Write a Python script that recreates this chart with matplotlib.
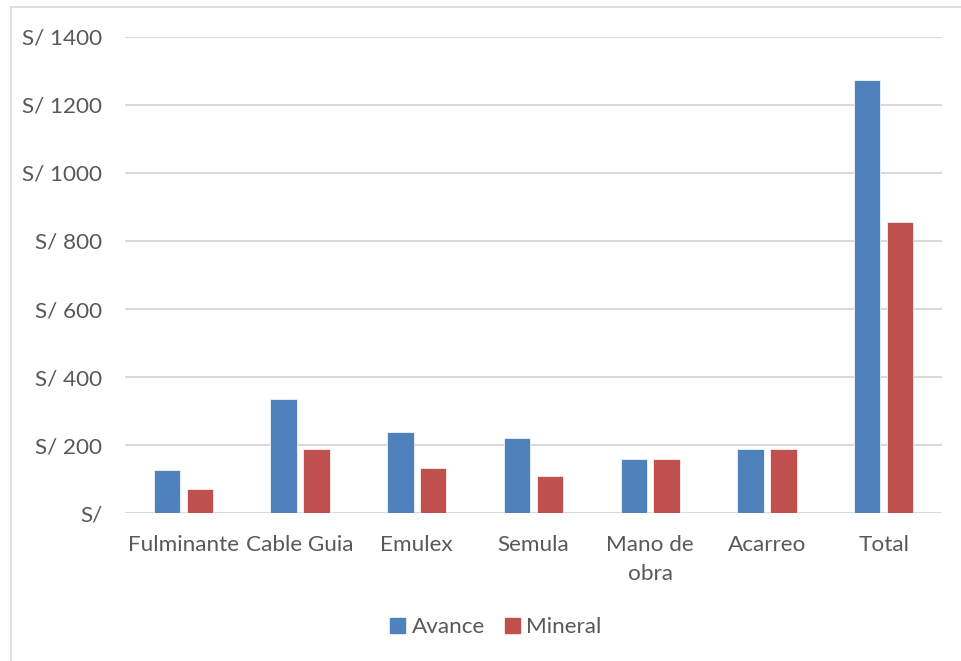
import matplotlib
matplotlib.use('Agg')
import matplotlib.pyplot as plt
from matplotlib.lines import Line2D
from matplotlib.patches import Patch
import numpy as np

categorias = ['Fulminante', 'Cable Guia', 'Emulex', 'Semula', 'Mano de\nobra', 'Acarreo', 'Total']
avance = [127, 335, 240, 220, 160, 190, 1273]
mineral = [71, 189, 134, 110, 160, 190, 855]
yticks = [0, 200, 400, 600, 800, 1000, 1200, 1400]
ytick_labels = ['S/'] + [f'S/ {v}' for v in yticks[1:]]

C_AVANCE, C_MINERAL = '#4F81BD', '#C0504D'
TXT = '#595959'
GRID = '#D9D9D9'
FS = 16.2

plt.rcParams['font.family'] = ['Lato', 'DejaVu Sans']

W, H = 961, 661
fig = plt.figure(figsize=(W / 100, H / 100), dpi=100)
ax = fig.add_axes([125 / W, 1 - 513.3 / H, (942 - 125) / W, (513.3 - 36.7) / H])

x = np.arange(len(categorias))
bw = 0.227
off = 0.141
ax.bar(x - off, avance, bw, color=C_AVANCE, edgecolor='white', linewidth=0.5, zorder=3)
ax.bar(x + off, mineral, bw, color=C_MINERAL, edgecolor='white', linewidth=0.5, zorder=3)

ax.set_xlim(-0.5, len(categorias) - 0.5)
ax.set_ylim(0, 1400)
ax.set_yticks(yticks)
ax.set_yticklabels(ytick_labels)
ax.yaxis.grid(True, color=GRID, linewidth=1.5, zorder=0)
ax.set_axisbelow(True)
for s in ('top', 'right', 'left', 'bottom'):
    ax.spines[s].set_visible(False)
ax.tick_params(axis='both', length=0, labelsize=FS, colors=TXT)
ax.tick_params(axis='y', pad=16.5)
ax.tick_params(axis='x', pad=15.5)
ax.set_xticks(x)
ax.set_xticklabels(categorias, linespacing=1.55, va='top')

handles = [Patch(color=C_AVANCE, label='Avance'), Patch(color=C_MINERAL, label='Mineral')]
leg = fig.legend(handles=handles, loc='center', bbox_to_anchor=(496 / W, 1 - 627 / H),
                 ncol=2, frameon=False, fontsize=FS, handlelength=0.65, handleheight=0.65,
                 handletextpad=0.3, columnspacing=0.9)
for t in leg.get_texts():
    t.set_color(TXT)

# outer chart frame
fig.add_artist(Line2D([11 / W, 11 / W], [0, 1 - 7 / H], color=GRID, linewidth=1.2))
fig.add_artist(Line2D([11 / W, 1], [1 - 7 / H, 1 - 7 / H], color=GRID, linewidth=1.2))

fig.savefig('out.png', dpi=100, facecolor='white')
